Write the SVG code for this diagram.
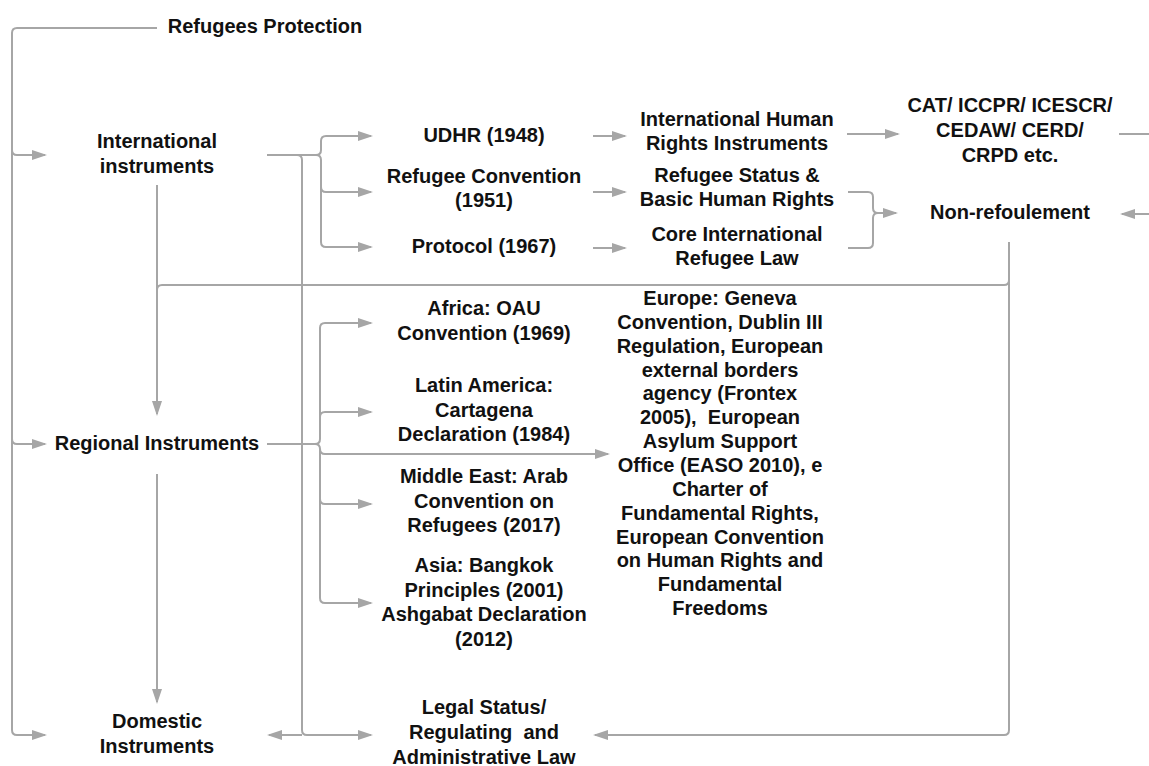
<svg xmlns="http://www.w3.org/2000/svg" width="1149" height="766" viewBox="0 0 1149 766">
  <style>
    .lbl { font-family: "Liberation Sans", Arial, sans-serif; font-size: 20px; font-weight: bold; fill: #111; text-anchor: middle; white-space: pre; }
    .wire { fill: none; stroke: #a6a6a6; stroke-width: 2; }
    .arr { marker-end: url(#head); }
  </style>
  <defs>
    <marker id="head" markerUnits="userSpaceOnUse" markerWidth="15" markerHeight="10" refX="13" refY="5" orient="auto">
      <path d="M0,0 L15,5 L0,10 Z" fill="#a6a6a6"/>
    </marker>
  </defs>
  <rect width="1149" height="766" fill="#fff"/>

  <g id="connectors">
    <!-- root trunk to the three instrument levels -->
    <path class="wire arr" d="M157 28 H17 Q12 28 12 33 V150 Q12 155 17 155 H45"/>
    <path class="wire arr" d="M12 150 V439 Q12 444 17 444 H45"/>
    <path class="wire arr" d="M12 439 V730 Q12 735 17 735 H45"/>

    <!-- international instruments brace -->
    <path class="wire arr" d="M267 155 H316 Q321 155 321 150 V141 Q321 136 326 136 H371"/>
    <path class="wire arr" d="M316 155 Q321 155 321 160 V187 Q321 192 326 192 H371"/>
    <path class="wire arr" d="M321 187 V242 Q321 247 326 247 H371"/>

    <!-- international to domestic / legal status -->
    <path class="wire arr" d="M297 155 Q302 155 302 160 V730 Q302 735 307 735 H371"/>
    <path class="wire arr" d="M302 735 H269"/>

    <!-- treaty to content -->
    <path class="wire arr" d="M593 136 H625"/>
    <path class="wire arr" d="M593 192 H625"/>
    <path class="wire arr" d="M593 248 H625"/>
    <path class="wire arr" d="M847 134 H898"/>

    <!-- merge into non-refoulement -->
    <path class="wire arr" d="M848 192 H868 Q873 192 873 197 V208 Q873 213 878 213 H896"/>
    <path class="wire" d="M848 248 H868 Q873 248 873 243 V218 Q873 213 878 213"/>

    <!-- CAT loop back to non-refoulement (runs past the right edge) -->
    <path class="wire arr" d="M1119 134 H1170 V214 H1122"/>

    <!-- level to level -->
    <path class="wire arr" d="M157 185 V414"/>
    <path class="wire" d="M1009 242 V280 Q1009 285 1004 285 H162 Q157 285 157 290 V414"/>
    <path class="wire arr" d="M1009 280 V730 Q1009 735 1004 735 H595"/>
    <path class="wire arr" d="M157 474 V702"/>

    <!-- regional instruments brace -->
    <path class="wire" d="M267 444 H315 Q320 444 320 439"/>
    <path class="wire arr" d="M320 439 V328 Q320 323 325 323 H371"/>
    <path class="wire arr" d="M320 417 Q320 412 325 412 H371"/>
    <path class="wire arr" d="M315 444 Q320 444 320 449 Q320 454 325 454 H608"/>
    <path class="wire arr" d="M320 449 V598 Q320 603 325 603 H371"/>
    <path class="wire arr" d="M320 499 Q320 504 325 504 H371"/>
  </g>

  <g id="refugees-protection"><text class="lbl" x="265" y="33">Refugees Protection</text></g>
  <g id="international-instruments"><text class="lbl" x="157" y="148">International<tspan x="157" dy="25">instruments</tspan></text></g>
  <g id="regional-instruments"><text class="lbl" x="157" y="450">Regional Instruments</text></g>
  <g id="domestic-instruments"><text class="lbl" x="157" y="728">Domestic<tspan x="157" dy="25">Instruments</tspan></text></g>

  <g id="udhr"><text class="lbl" x="484" y="142">UDHR (1948)</text></g>
  <g id="refugee-convention"><text class="lbl" x="484" y="183">Refugee Convention<tspan x="484" dy="24">(1951)</tspan></text></g>
  <g id="protocol"><text class="lbl" x="484" y="253">Protocol (1967)</text></g>

  <g id="human-rights-instruments"><text class="lbl" x="737" y="126">International Human<tspan x="737" dy="24">Rights Instruments</tspan></text></g>
  <g id="refugee-status"><text class="lbl" x="737" y="182">Refugee Status &amp;<tspan x="737" dy="24">Basic Human Rights</tspan></text></g>
  <g id="core-law"><text class="lbl" x="737" y="241">Core International<tspan x="737" dy="24">Refugee Law</tspan></text></g>

  <g id="treaties"><text class="lbl" x="1010" y="112">CAT/ ICCPR/ ICESCR/<tspan x="1010" dy="25">CEDAW/ CERD/</tspan><tspan x="1010" dy="25">CRPD etc.</tspan></text></g>
  <g id="non-refoulement"><text class="lbl" x="1010" y="219">Non-refoulement</text></g>

  <g id="africa"><text class="lbl" x="484" y="315">Africa: OAU<tspan x="484" dy="25">Convention (1969)</tspan></text></g>
  <g id="latin-america"><text class="lbl" x="484" y="392">Latin America:<tspan x="484" dy="24.5">Cartagena</tspan><tspan x="484" dy="24.5">Declaration (1984)</tspan></text></g>
  <g id="middle-east"><text class="lbl" x="484" y="483">Middle East: Arab<tspan x="484" dy="24.5">Convention on</tspan><tspan x="484" dy="24.5">Refugees (2017)</tspan></text></g>
  <g id="asia"><text class="lbl" x="484" y="572">Asia: Bangkok<tspan x="484" dy="24.5">Principles (2001)</tspan><tspan x="484" dy="24.5">Ashgabat Declaration</tspan><tspan x="484" dy="24.5">(2012)</tspan></text></g>

  <g id="europe">
    <text class="lbl" x="720" y="305">Europe: Geneva<tspan x="720" dy="23.85">Convention, Dublin III</tspan><tspan x="720" dy="23.85">Regulation, European</tspan><tspan x="720" dy="23.85">external borders</tspan><tspan x="720" dy="23.85">agency (Frontex</tspan><tspan x="720" dy="23.85">2005),  European</tspan><tspan x="720" dy="23.85">Asylum Support</tspan><tspan x="720" dy="23.85">Office (EASO 2010), e</tspan><tspan x="720" dy="23.85">Charter of</tspan><tspan x="720" dy="23.85">Fundamental Rights,</tspan><tspan x="720" dy="23.85">European Convention</tspan><tspan x="720" dy="23.85">on Human Rights and</tspan><tspan x="720" dy="23.85">Fundamental</tspan><tspan x="720" dy="23.85">Freedoms</tspan></text>
  </g>

  <g id="legal-status"><text class="lbl" x="484" y="714">Legal Status/<tspan x="484" dy="25">Regulating  and</tspan><tspan x="484" dy="25">Administrative Law</tspan></text></g>
</svg>
